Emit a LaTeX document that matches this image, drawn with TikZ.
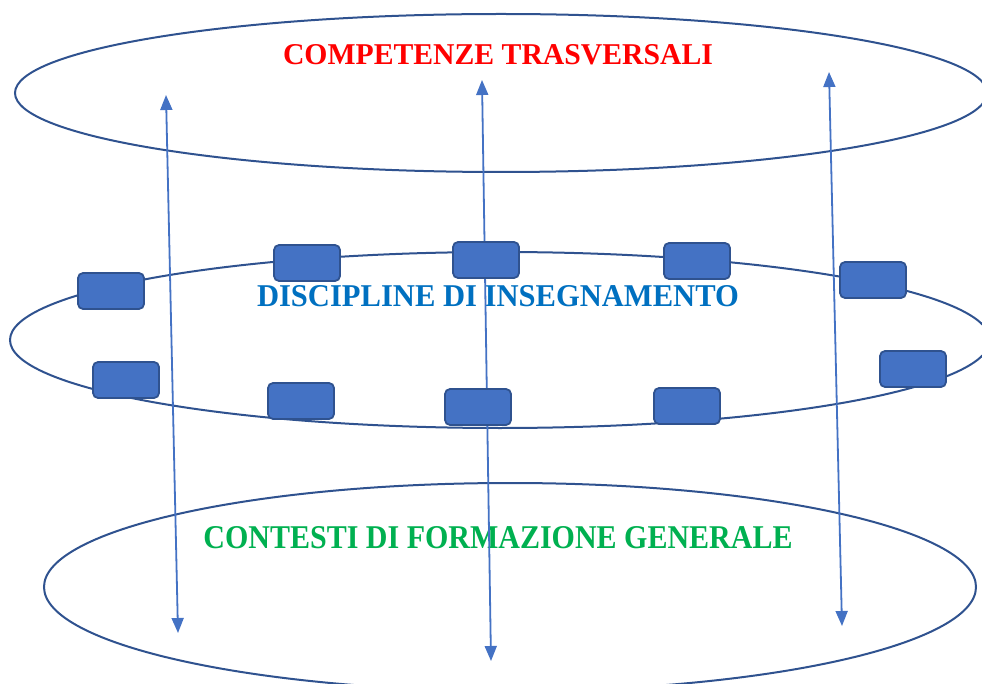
\documentclass[tikz,border=0pt]{standalone}
\usepackage{fontspec}
\setmainfont{Liberation Serif}
\usetikzlibrary{arrows.meta}
\definecolor{ringc}{RGB}{47,82,143}
\definecolor{arrc}{RGB}{68,114,196}
\definecolor{boxc}{RGB}{68,114,196}
\definecolor{redc}{RGB}{255,0,0}
\definecolor{bluec}{RGB}{0,112,192}
\definecolor{greenc}{RGB}{0,176,80}
\tikzset{
  ring/.style={draw=ringc, line width=2pt},
  disc/.style={draw=ringc, fill=boxc, line width=1.8pt, rounded corners=5pt, minimum width=66pt, minimum height=36pt, inner sep=0pt},
  link/.style={draw=arrc, line width=1.8pt, {Triangle[length=15pt,width=12pt]}-{Triangle[length=15pt,width=12pt]}},
  title/.style={inner sep=0pt, font=\bfseries}
}
\begin{document}
\begin{tikzpicture}[x=1pt,y=-1pt]
\useasboundingbox (0,0) rectangle (982,684);
\begin{scope}
\clip (0,0) rectangle (982,684);
% ellipses
\draw[ring] (501,93) ellipse [x radius=486, y radius=79];
\draw[ring] (500,340) ellipse [x radius=490, y radius=88];
\draw[ring] (510,587) ellipse [x radius=466, y radius=104];
\end{scope}
% text
\node[title, text=redc] (t1) at (498,55) {\resizebox{430pt}{20pt}{COMPETENZE TRASVERSALI}};
\node[title, text=bluec] (t2) at (498,296) {\resizebox{482pt}{21pt}{DISCIPLINE DI INSEGNAMENTO}};
\node[title, text=greenc] (t3) at (498,538) {\resizebox{589pt}{22pt}{CONTESTI DI FORMAZIONE GENERALE}};
% arrows
\coordinate (a1t) at (166,95);  \coordinate (a1b) at (178,633);
\coordinate (a2t) at (482,80);  \coordinate (a2b) at (491,661);
\coordinate (a3t) at (829,72);  \coordinate (a3b) at (842,626);
\draw[link] (a1t) -- (a1b);
\draw[link] (a2t) -- (a2b);
\draw[link] (a3t) -- (a3b);
% boxes
\node[disc] (b1) at (111,291) {};
\node[disc] (b2) at (307,263) {};
\node[disc] (b3) at (486,260) {};
\node[disc] (b4) at (697,261) {};
\node[disc] (b5) at (873,280) {};
\node[disc] (b6) at (126,380) {};
\node[disc] (b7) at (301,401) {};
\node[disc] (b8) at (478,407) {};
\node[disc] (b9) at (687,406) {};
\node[disc] (b10) at (913,369) {};
\end{tikzpicture}
\end{document}
